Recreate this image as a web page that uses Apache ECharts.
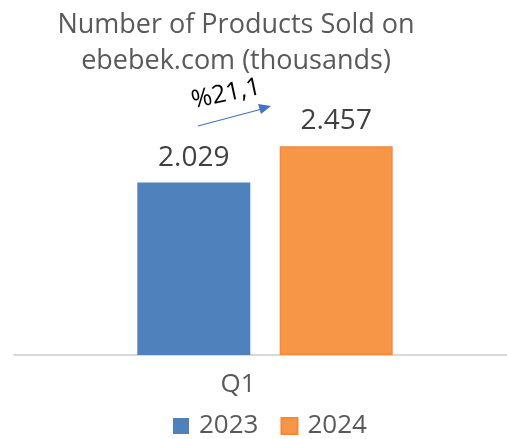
<!DOCTYPE html>
<html><head><meta charset="utf-8">
<script src="https://cdn.jsdelivr.net/npm/echarts@6/dist/echarts.min.js"></script>
<style>html,body{margin:0;padding:0;background:#fff}#c{width:507px;height:439px}</style>
</head><body><div id="c"></div>
<script>
const categories = ['Q1'];
const seriesNames = ['2023', '2024'];
const values2023 = [2029];
const values2024 = [2457];
const valueLabels2023 = ['2.029'];
const valueLabels2024 = ['2.457'];
const growthLabel = '%21,1';
const titleText = 'Number of Products Sold on\nebebek.com (thousands)';

const chart = echarts.init(document.getElementById('c'), null, {renderer: 'canvas'});
const font = '"Open Sans", sans-serif';
chart.setOption({
  animation: false,
  backgroundColor: '#fff',
  title: {
    text: titleText, left: 231, top: 2, textAlign: 'center',
    textStyle: {color: '#595959', fontSize: 27, fontWeight: 'normal', fontFamily: font, lineHeight: 36}
  },
  legend: {
    data: seriesNames, left: 168, top: 408, itemWidth: 16, itemHeight: 16, itemGap: 22,
    icon: 'rect',
    textStyle: {color: '#595959', fontSize: 26, fontFamily: font, padding: [0,0,0,5]}
  },
  grid: {left: 14, width: 502, top: 100, bottom: 84, outerBoundsMode: 'none', containLabel: false},
  xAxis: {
    type: 'category', data: categories,
    axisLine: {lineStyle: {color: '#d9d9d9', width: 2}},
    axisTick: {show: false},
    axisLabel: {color: '#595959', fontSize: 26, fontFamily: font, margin: 17, padding: [0, 54, 0, 0]}
  },
  yAxis: {type: 'value', min: 0, max: 3000, show: false, splitLine: {show: false}},
  series: [
    {name: seriesNames[0], type: 'bar', data: values2023, barWidth: 113, barGap: '26%',
     itemStyle: {color: '#4F81BD'},
     label: {show: true, position: 'top', distance: 11, color: '#404040', fontSize: 28, fontFamily: font,
       formatter: p => valueLabels2023[p.dataIndex]}},
    {name: seriesNames[1], type: 'bar', data: values2024, barWidth: 113,
     itemStyle: {color: '#F79646', borderColor: '#F5893A', borderWidth: 1.5},
     label: {show: true, position: 'top', distance: 11, color: '#404040', fontSize: 28, fontFamily: font,
       formatter: p => valueLabels2024[p.dataIndex]}}
  ],
  graphic: [
    {type: 'text', x: 226, y: 94, rotation: 12 * Math.PI / 180,
     style: {text: growthLabel, fill: '#000', fontSize: 25, fontFamily: font, textAlign: 'center', textVerticalAlign: 'middle'}},
    {type: 'line', shape: {x1: 198, y1: 126, x2: 262, y2: 109}, style: {stroke: '#4472C4', lineWidth: 1.2}},
    {type: 'polygon', shape: {points: [[271, 106], [258, 104], [261, 114]]}, style: {fill: '#4472C4'}}
  ]
});
</script></body></html>
